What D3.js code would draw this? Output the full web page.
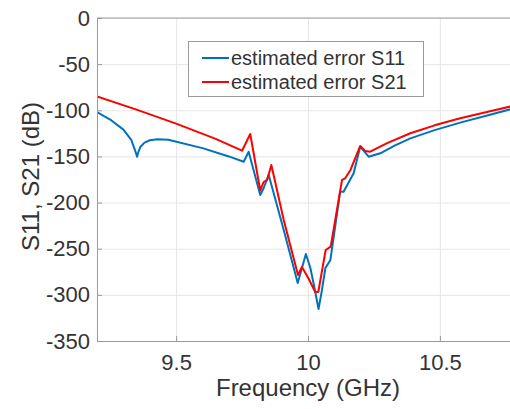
<!DOCTYPE html>
<html>
<head>
<meta charset="utf-8">
<script src="https://cdn.jsdelivr.net/npm/d3@7"></script>
<style>
  body { margin: 0; background: #fff; }
  svg { display: block; font-family: "Liberation Sans", Arial, sans-serif; }
  .axis path, .axis line { stroke: #999; }
  .axis text { fill: #333; font-size: 22px; }
  .grid line { stroke: #e6e6e6; }
  .grid path { stroke: none; }
</style>
</head>
<body>
<div class="chart"></div>
<script>
// values
var freqS11 = [9.2, 9.25, 9.3, 9.33, 9.345, 9.352, 9.357, 9.365, 9.38, 9.4, 9.43, 9.47,
  9.6, 9.7, 9.756, 9.775, 9.819, 9.832, 9.851, 9.908, 9.961, 9.992, 10.009, 10.021, 10.04, 10.053,
  10.066, 10.085, 10.122, 10.135, 10.173, 10.198, 10.23, 10.274, 10.33, 10.388, 10.48, 10.577, 10.69, 10.8];
var s11 = [-102, -110, -121, -132, -144, -150.3, -145, -139.5, -135, -132.5, -131.4, -132,
  -141, -150, -155.7, -144.9, -191.8, -184.2, -170.1, -229.7, -287.1, -255.7, -270.9, -287.5, -315.3, -294.7,
  -270.9, -262.2, -188.2, -188.2, -168.3, -139.4, -150.3, -146.6, -138, -130.4, -121.5, -113.4, -104.8, -96.4];

var freqS21 = [9.2, 9.35, 9.5, 9.65, 9.75, 9.781, 9.819, 9.832, 9.845, 9.861, 9.908, 9.962, 9.977,
  10.001, 10.027, 10.039, 10.067, 10.086, 10.129, 10.141, 10.161, 10.198, 10.217, 10.236,
  10.3, 10.388, 10.48, 10.577, 10.69, 10.8];
var s21 = [-85, -99.3, -114.5, -131, -143.8, -125.7, -186.9, -177.7, -175.5, -159.3, -218.9, -278.5, -269.8,
  -281.7, -296.6, -296.9, -251.4, -247.8, -175.5, -173.7, -164.7, -138.7, -144.1, -144.9,
  -135.5, -124.9, -116.3, -108.7, -101, -93.8];

var xTicks = [9.5, 10, 10.5];
var yTicks = [0, -50, -100, -150, -200, -250, -300, -350];
var seriesNames = ["estimated error S11", "estimated error S21"];
var seriesColors = ["#0072bd", "#ff0000"];

var margin = {top: 18, right: -9, bottom: 68, left: 97},
    width = 510 - margin.left - margin.right,
    height = 409 - margin.top - margin.bottom;

var svg = d3.select("div.chart").append("svg")
    .attr("width", 510)
    .attr("height", 409);

var g = svg.append("g").attr("transform", "translate(" + margin.left + "," + margin.top + ")");

var x = d3.scaleLinear().domain([9.2, 10.8]).range([0, width]);
var y = d3.scaleLinear().domain([-350, 0]).range([height, 0]);

// grid
g.append("g")
    .attr("class", "grid")
    .attr("transform", "translate(0," + height + ")")
    .call(d3.axisBottom(x).tickValues(xTicks).tickSize(-height).tickFormat(""));
g.append("g")
    .attr("class", "grid")
    .call(d3.axisLeft(y).tickValues(yTicks).tickSize(-width).tickFormat(""));

g.append("clipPath").attr("id", "clip")
  .append("rect").attr("width", width).attr("height", height);

var line = d3.line()
    .x(function(d) { return x(d[0]); })
    .y(function(d) { return y(d[1]); });

var series = [d3.zip(freqS11, s11), d3.zip(freqS21, s21)];

g.append("g").attr("clip-path", "url(#clip)")
  .selectAll("path")
  .data(series)
  .enter().append("path")
    .attr("d", line)
    .attr("fill", "none")
    .attr("stroke", function(d, i) { return seriesColors[i]; })
    .attr("stroke-width", 2)
    .attr("stroke-linejoin", "round");

// axes
var plain = function(d) { return String(d); };

g.append("g")
    .attr("class", "axis")
    .attr("transform", "translate(0," + height + ")")
    .call(d3.axisBottom(x).tickValues(xTicks).tickSize(-5).tickSizeOuter(0).tickPadding(13).tickFormat(plain));

g.append("g")
    .attr("class", "axis")
    .call(d3.axisLeft(y).tickValues(yTicks).tickSize(-5).tickSizeOuter(0).tickPadding(7).tickFormat(plain));

g.append("line")
    .attr("x1", 0).attr("x2", width)
    .attr("y1", 0).attr("y2", 0)
    .attr("stroke", "#999");

// labels
svg.append("text")
    .attr("x", margin.left + width / 2)
    .attr("y", 396)
    .attr("text-anchor", "middle")
    .attr("font-size", "24px")
    .attr("fill", "#333")
    .text("Frequency (GHz)");

svg.append("text")
    .attr("transform", "translate(39," + (margin.top + height / 2 - 3) + ") rotate(-90)")
    .attr("text-anchor", "middle")
    .attr("font-size", "24px")
    .attr("fill", "#333")
    .text("S11, S21 (dB)");

// legend
var legend = svg.append("g");
legend.append("rect")
    .attr("x", 188.5).attr("y", 41.5)
    .attr("width", 235).attr("height", 55)
    .attr("fill", "#fff")
    .attr("stroke", "#999");

var rows = legend.selectAll("g.row")
    .data(seriesNames)
  .enter().append("g")
    .attr("class", "row")
    .attr("transform", function(d, i) { return "translate(0," + (i * 24) + ")"; });

rows.append("line")
    .attr("x1", 202).attr("x2", 229)
    .attr("y1", 58).attr("y2", 58)
    .attr("stroke", function(d, i) { return seriesColors[i]; })
    .attr("stroke-width", 2);

rows.append("text")
    .attr("x", 231)
    .attr("y", 64.5)
    .attr("font-size", "20px")
    .attr("fill", "#333")
    .text(function(d) { return d; });
</script>
</body>
</html>
